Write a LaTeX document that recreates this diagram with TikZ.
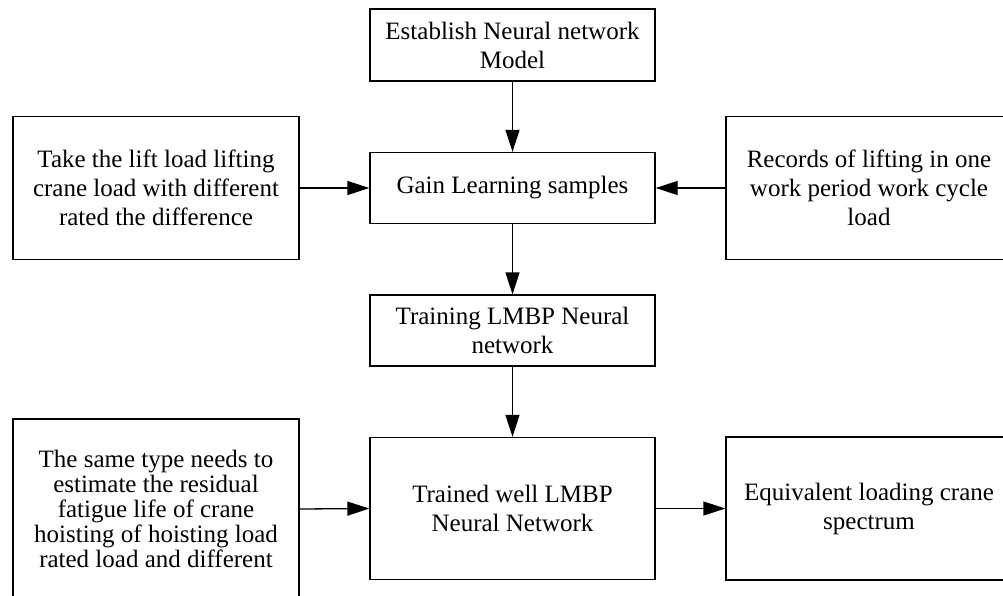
\documentclass[tikz,border=0pt]{standalone}
\usepackage{fontspec}
\setmainfont{Liberation Serif}
\usetikzlibrary{arrows.meta}
\begin{document}
\begin{tikzpicture}[x=1pt,y=-1pt,
  box/.style={draw, line width=1.3pt, rectangle, align=center, inner sep=0pt,
    font=\fontsize{25}{29}\selectfont},
  conn/.style={line width=1.3pt, -{Triangle[length=22pt,width=14pt]}}]
\useasboundingbox (0,0) rectangle (1003,595);
\clip (0,0) rectangle (1003,595);
\node[box, minimum width=285pt, minimum height=72pt] (est) at (512.5,45) {Establish Neural network\\Model};
\node[box, minimum width=285pt, minimum height=71pt] (gain) at (512.5,188) {Gain Learning samples};
\node[box, minimum width=286pt, minimum height=143pt] (take) at (156,188) {Take the lift load lifting\\crane load with different\\rated the difference};
\node[box, minimum width=286pt, minimum height=143pt] (rec) at (869,188) {Records of lifting in one\\work period work cycle\\load};
\node[box, minimum width=285pt, minimum height=71pt] (trn) at (512.5,330.5) {Training LMBP Neural\\network};
\node[box, minimum width=285pt, minimum height=142pt] (trd) at (512.5,508.5) {Trained well LMBP\\Neural Network};
\node[box, minimum width=286pt, minimum height=180pt, font=\fontsize{25}{25}\selectfont] (same) at (156,509) {The same type needs to\\estimate the residual\\fatigue life of crane\\hoisting of hoisting load\\rated load and different};
\node[box, minimum width=286pt, minimum height=143pt] (eqv) at (869,508.5) {Equivalent loading crane\\spectrum};
\draw[conn] (est) -- (gain);
\draw[conn] (take) -- (gain);
\draw[conn] (rec) -- (gain);
\draw[conn] (gain) -- (trn);
\draw[conn] (trn) -- (trd);
\draw[conn] (same.east) -- (trd.west);
\draw[conn] (trd) -- (eqv);
\end{tikzpicture}
\end{document}
